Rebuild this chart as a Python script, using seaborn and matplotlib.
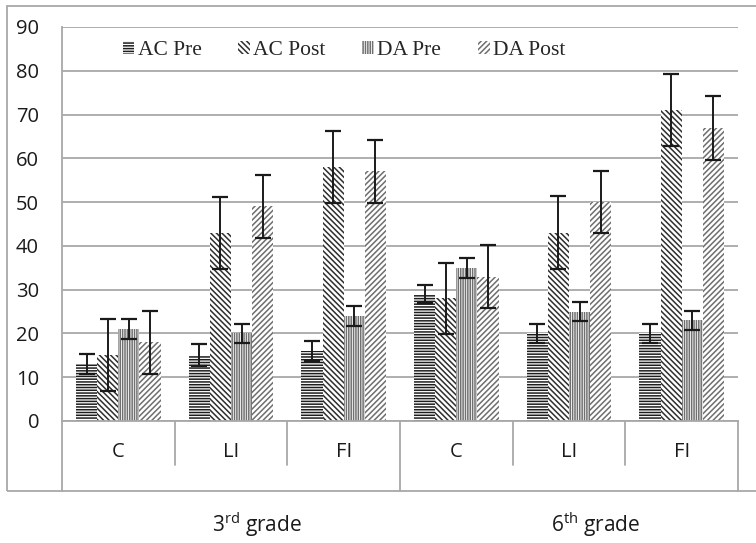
import matplotlib
matplotlib.use("Agg")
import matplotlib.pyplot as plt
import matplotlib.patches as mpatches
import matplotlib.transforms as mtransforms
import seaborn as sns
import pandas as pd
import numpy as np

# ---- data ----
cat_keys = ["C3", "LI3", "FI3", "C6", "LI6", "FI6"]
categories = ["C", "LI", "FI", "C", "LI", "FI"]
groups = ["3$^{\\mathregular{rd}}$ grade", "6$^{\\mathregular{th}}$ grade"]
series = ["AC Pre", "AC Post", "DA Pre", "DA Post"]
ac_pre = [13, 15, 16, 29, 20, 20]
ac_pre_err = [2.2, 2.5, 2.3, 2.1, 2.2, 2.2]
ac_post = [15, 43, 58, 28, 43, 71]
ac_post_err = [8.2, 8.2, 8.3, 8.2, 8.3, 8.2]
da_pre = [21, 20, 24, 35, 25, 23]
da_pre_err = [2.3, 2.2, 2.2, 2.3, 2.2, 2.2]
da_post = [18, 49, 57, 33, 50, 67]
da_post_err = [7.2, 7.1, 7.3, 7.2, 7.1, 7.3]
yticks = [0, 10, 20, 30, 40, 50, 60, 70, 80, 90]

values = [ac_pre, ac_post, da_pre, da_post]
errors = [ac_pre_err, ac_post_err, da_pre_err, da_post_err]

rows = []
for s, vals in zip(series, values):
    for k, v in zip(cat_keys, vals):
        rows.append({"cat": k, "series": s, "value": v})
df = pd.DataFrame(rows)

# ---- style ----
sns.set_style("white")
plt.rcParams["font.family"] = ["Open Sans", "DejaVu Sans"]
plt.rcParams["hatch.linewidth"] = 1.1
GRAY = "#a8a8a8"
TXT = "#1a1a1a"

hatches = ["------", "\\\\\\\\\\\\", "|||||||", "//////"]
hcolors = ["#1e1e1e", "#2e2e2e", "#707070", "#6e6e6e"]

fig = plt.figure(figsize=(7.56, 5.43), dpi=100)
ax = fig.add_axes([62 / 756, 122 / 543, 676 / 756, 394 / 543])

sns.barplot(data=df, x="cat", y="value", hue="series", order=cat_keys,
            hue_order=series, width=0.75, ax=ax, errorbar=None,
            legend=False, palette=["white"] * 4)

for cont, h, hc, errs in zip(ax.containers, hatches, hcolors, errors):
    xs, ys = [], []
    for p in cont.patches:
        p.set_facecolor("white")
        p.set_edgecolor(hc)
        p.set_hatch(h)
        p.set_linewidth(0)
        xs.append(p.get_x() + p.get_width() / 2)
        ys.append(p.get_height())
    ax.errorbar(xs, ys, yerr=errs, fmt="none", ecolor="#1a1a1a",
                elinewidth=1.4, capsize=5.5, capthick=1.6, zorder=5)

ax.set_xlim(-0.5, 5.5)
ax.set_ylim(0, 90)
ax.set_yticks(yticks)
ax.set_yticklabels([str(t) for t in yticks], fontsize=14.5, color=TXT)
ax.set_xticks(range(len(categories)))
ax.set_xticklabels(categories, fontsize=14.5, color=TXT)
ax.tick_params(axis="x", length=0, pad=15)
ax.tick_params(axis="y", length=6.5, width=1.2, color=GRAY, pad=10, direction="out")
ax.set_xlabel("")
ax.set_ylabel("")

ax.yaxis.grid(True, color=GRAY, lw=1.3)
ax.set_axisbelow(True)
for s in ["top", "right"]:
    ax.spines[s].set_visible(False)
for s in ["left", "bottom"]:
    ax.spines[s].set_color(GRAY)
    ax.spines[s].set_linewidth(1.3)

# category table lines below the axis
trans = mtransforms.blended_transform_factory(ax.transData, ax.transAxes)
y_short = -44 / 394
y_long = -70 / 394
for i in range(7):
    xb = -0.5 + i
    y1 = y_long if i in (0, 3, 6) else y_short
    ax.plot([xb, xb], [0, y1], transform=trans, color=GRAY, lw=1.3,
            clip_on=False, zorder=1)

# group labels
for gx, g in zip([1.23, 4.24], groups):
    ax.text(gx, -104 / 394, g, transform=trans, ha="center", va="center",
            fontsize=15, color=TXT)

# outer frame
fig.patches.append(mpatches.Rectangle((7 / 756, 52 / 543), 1.0, 485 / 543,
                                      transform=fig.transFigure, fill=False,
                                      edgecolor=GRAY, lw=1.3))

# legend
handles = [mpatches.Patch(facecolor="white", edgecolor=hc, hatch=h, lw=0, label=s)
           for s, h, hc in zip(series, hatches, hcolors)]
ax.legend(handles=handles, loc="center", bbox_to_anchor=(0.417, 0.94),
          ncol=4, frameon=False, prop={"family": "Liberation Serif", "size": 15.5},
          handlelength=0.55, handleheight=0.55, handletextpad=0.15,
          columnspacing=1.7, borderpad=0)

fig.savefig("out.png", dpi=100)
